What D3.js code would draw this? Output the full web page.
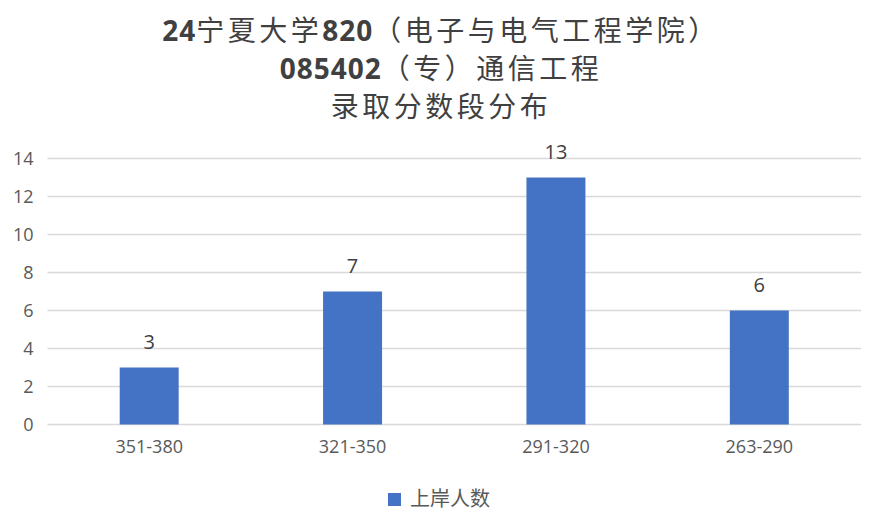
<!DOCTYPE html>
<html>
<head>
<meta charset="utf-8">
<script src="https://cdn.jsdelivr.net/npm/d3@7"></script>
<style>
  body { margin: 0; background: #fff; }
  svg { display: block; }
</style>
</head>
<body>
<div id="chart"></div>
<script>
var titleLines = ["24宁夏大学820（电子与电气工程学院）", "085402（专）通信工程", "录取分数段分布"];
var categories = ["351-380", "321-350", "291-320", "263-290"];
var values = [3, 7, 13, 6];
var yTicks = [0, 2, 4, 6, 8, 10, 12, 14];
var seriesName = "上岸人数";

var width = 882, height = 529;
var margin = { top: 158.5, right: 21, bottom: 104.5, left: 47.5 };

var svg = d3.select("#chart").append("svg")
  .attr("width", width)
  .attr("height", height);

var x = d3.scaleBand()
  .domain(categories)
  .range([margin.left, width - margin.right])
  .padding(0);

var y = d3.scaleLinear()
  .domain([0, 14])
  .range([height - margin.bottom, margin.top]);

var barW = x.bandwidth() * 0.29;

// title: digits bold, CJK regular and a bit spaced out
var title = svg.append("text")
  .attr("text-anchor", "middle")
  .attr("fill", "#404040");

titleLines.forEach(function(line, i) {
  var t = title.append("tspan")
    .attr("x", 441)
    .attr("y", 41 + i * 38);
  line.match(/[0-9]+|[^0-9]+/g).forEach(function(p) {
    var s = t.append("tspan").text(p);
    if (/[0-9]/.test(p)) {
      s.attr("font-family", "'Open Sans', sans-serif")
        .attr("font-weight", "bold")
        .attr("font-size", 28)
        .attr("letter-spacing", 1);
    } else {
      s.attr("font-family", "'Noto Sans CJK SC', sans-serif")
        .attr("font-weight", "normal")
        .attr("font-size", 28)
        .attr("letter-spacing", 3.5);
    }
  });
});

// gridlines
svg.append("g")
  .selectAll("line")
  .data(yTicks)
  .enter().append("line")
  .attr("x1", margin.left)
  .attr("x2", width - margin.right)
  .attr("y1", function(d) { return y(d); })
  .attr("y2", function(d) { return y(d); })
  .attr("stroke", "#d9d9d9")
  .attr("stroke-width", 1.5);

// y axis labels
var yAxis = svg.append("g")
  .attr("transform", "translate(" + margin.left + ",0)")
  .call(d3.axisLeft(y).tickValues(yTicks).tickSize(0).tickPadding(14));
yAxis.select(".domain").remove();
yAxis.selectAll("text")
  .attr("font-family", "'Open Sans', sans-serif")
  .attr("font-size", 18)
  .attr("fill", "#595959");

// x axis labels
var xAxis = svg.append("g")
  .attr("transform", "translate(0," + y(0) + ")")
  .call(d3.axisBottom(x).tickSize(0).tickPadding(16));
xAxis.select(".domain").remove();
xAxis.selectAll("text")
  .attr("font-family", "'Open Sans', sans-serif")
  .attr("font-size", 18)
  .attr("fill", "#595959");

// bars
svg.append("g")
  .selectAll("rect")
  .data(values)
  .enter().append("rect")
  .attr("x", function(d, i) { return x(categories[i]) + x.bandwidth() / 2 - barW / 2; })
  .attr("y", function(d) { return y(d); })
  .attr("width", barW)
  .attr("height", function(d) { return y(0) - y(d); })
  .attr("fill", "#4472c4");

// data labels
svg.append("g")
  .selectAll("text")
  .data(values)
  .enter().append("text")
  .attr("x", function(d, i) { return x(categories[i]) + x.bandwidth() / 2; })
  .attr("y", function(d) { return y(d) - 19; })
  .attr("text-anchor", "middle")
  .attr("font-family", "'Open Sans', sans-serif")
  .attr("font-size", 20)
  .attr("fill", "#404040")
  .text(function(d) { return d; });

// legend
var legend = svg.append("g");
legend.append("rect")
  .attr("x", 388)
  .attr("y", 493)
  .attr("width", 13)
  .attr("height", 13)
  .attr("fill", "#4472c4");
legend.append("text")
  .attr("x", 410)
  .attr("y", 506)
  .attr("font-family", "'Noto Sans CJK SC', sans-serif")
  .attr("font-size", 20)
  .attr("fill", "#595959")
  .text(seriesName);
</script>
</body>
</html>
